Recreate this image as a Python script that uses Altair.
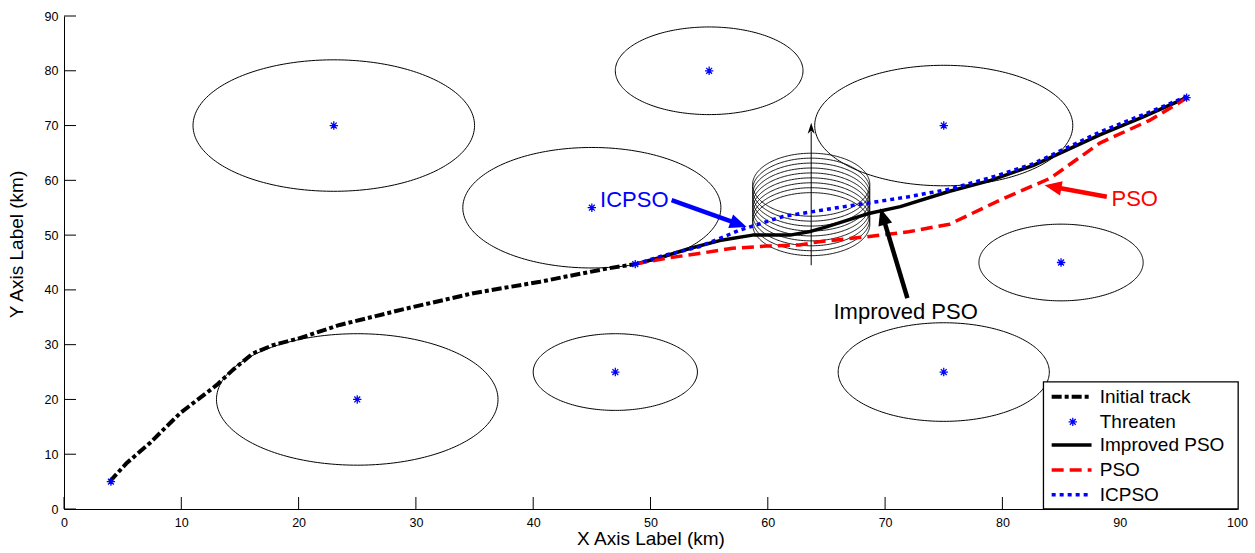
import altair as alt
import numpy as np
import pandas as pd

# ---------------- data ----------------
W, H = 1173, 493
XMAX, YMAX = 100, 90
SX, SY = W / XMAX, H / YMAX

threat_x = [23, 25, 47, 45, 55, 75, 75, 85]
threat_y = [70, 20, 25, 55, 80, 70, 25, 45]
threat_r = [12, 12, 7, 11, 8, 11, 9, 7]

waypoint_x = [4, 48.7, 95.7]
waypoint_y = [5, 44.7, 75.1]

init_x = [3.9, 5.3, 7.3, 9.9, 13.0, 14.4, 16.1, 17.8, 20.1, 23.5, 29.2, 34.9, 40.6, 46.3, 48.7]
init_y = [5.0, 8.3, 12.0, 17.5, 22.6, 25.4, 28.4, 29.9, 31.2, 33.6, 36.6, 39.4, 41.5, 43.9, 44.7]

ipso_x = [48.7, 51.0, 53.4, 55.9, 58.7, 61.9, 63.5, 65.0, 68.7, 71.3, 75.5, 79.0, 82.6, 88.3, 92.0, 95.7]
ipso_y = [44.7, 46.0, 47.6, 49.0, 50.0, 50.0, 50.6, 51.5, 54.0, 55.2, 58.0, 60.0, 62.7, 68.3, 71.6, 75.1]

pso_x = [48.7, 51.4, 54.0, 57.0, 59.9, 62.7, 64.4, 68.4, 72.0, 75.5, 79.8, 84.1, 88.3, 92.6, 95.4, 95.7]
pso_y = [44.7, 45.8, 46.6, 47.6, 48.0, 48.2, 48.8, 49.7, 50.6, 52.0, 56.4, 60.4, 66.8, 71.0, 74.6, 75.1]

icpso_x = [48.7, 51.0, 54.2, 57.6, 61.3, 63.0, 65.6, 69.3, 72.0, 75.5, 79.0, 82.6, 88.3, 92.6, 95.7]
icpso_y = [44.7, 46.2, 47.9, 50.9, 53.4, 54.0, 54.9, 56.1, 57.0, 58.4, 60.5, 63.0, 68.8, 72.5, 75.3]

cyl_cx = 63.7
cyl_rx = 5.0
cyl_ry = 5.75
cyl_levels = [52.0, 52.9, 53.8, 54.7, 55.6, 56.5, 57.4, 58.3, 59.2]
cyl_axis_y = [44.5, 70.5]

x_ticks = [0, 10, 20, 30, 40, 50, 60, 70, 80, 90, 100]
y_ticks = [0, 10, 20, 30, 40, 50, 60, 70, 80, 90]

# annotations: label, color, text x/y, arrow start x/y, arrow tip x/y
ann_label = ["ICPSO", "PSO", "Improved PSO"]
ann_color = ["#0000ff", "#ff0000", "#000000"]
ann_tx = [45.7, 89.3, 65.6]
ann_ty = [56.4, 56.6, 36.05]
ann_sx = [51.8, 88.9, 71.9]
ann_sy = [56.4, 57.0, 38.5]
ann_ex = [58.2, 83.6, 69.6]
ann_ey = [51.5, 59.1, 54.9]

legend_labels = ["Initial track", "Threaten", "Improved PSO", "PSO", "ICPSO"]
legend_rows_y = [20.5, 15.9, 11.7, 7.1, 2.6]
legend_box = dict(x=83.5, x2=100.1, y=0, y2=23.2)
legend_line_x = [84.2, 87.6]
legend_star_x = 86.0
legend_text_x = 88.3

FONT = "Liberation Sans"
BLACK, RED, BLUE = "#000000", "#ff0000", "#0000ff"
STAR = "M-1,0L1,0M0,-1L0,1M-0.7,-0.7L0.7,0.7M-0.7,0.7L0.7,-0.7"

# ---------------- scales / axes ----------------
xs = alt.Scale(domain=[0, XMAX], nice=False, zero=False)
ys = alt.Scale(domain=[0, YMAX], nice=False, zero=False)
xaxis = alt.Axis(title="X Axis Label (km)", values=x_ticks, tickSize=0, grid=False,
                 domainColor="black", domainWidth=1, labelColor="black", labelFont=FONT,
                 labelFontSize=12.5, labelPadding=7, labelFlush=False, labelOverlap=False,
                 titleFont=FONT, titleFontSize=19, titleFontWeight="normal", titleColor="black",
                 titleBaseline="top", titleY=20)
yaxis = alt.Axis(title="Y Axis Label (km)", values=y_ticks, tickSize=0, grid=False,
                 domainColor="black", domainWidth=1, labelColor="black", labelFont=FONT,
                 labelFontSize=12.5, labelPadding=6, labelFlush=False, labelOverlap=False,
                 titleFont=FONT, titleFontSize=19, titleFontWeight="normal", titleColor="black",
                 titleAngle=-90, titleBaseline="middle", titleX=-48, titleY=228)


def X(f="x"):
    return alt.X(f, type="quantitative", scale=xs, axis=xaxis)


def Y(f="y"):
    return alt.Y(f, type="quantitative", scale=ys, axis=yaxis)


layers = []

# threat circles
rows = []
th = np.linspace(0, 2 * np.pi, 241)
for k, (cx, cy, r) in enumerate(zip(threat_x, threat_y, threat_r)):
    for i, t in enumerate(th):
        rows.append({"id": k, "i": i, "x": cx + r * np.cos(t), "y": cy + r * np.sin(t)})
circles = pd.DataFrame(rows)
layers.append(alt.Chart(circles).mark_line(color=BLACK, strokeWidth=1).encode(
    x=X(), y=Y(), detail="id:N", order="i:Q"))

# cylinder rings
rows = []
for k, lv in enumerate(cyl_levels):
    for i, t in enumerate(th):
        rows.append({"id": k, "i": i, "x": cyl_cx + cyl_rx * np.cos(t), "y": lv + cyl_ry * np.sin(t)})
rings = pd.DataFrame(rows)
layers.append(alt.Chart(rings).mark_line(color=BLACK, strokeWidth=0.9).encode(
    x=X(), y=Y(), detail="id:N", order="i:Q"))


def arrow(sx, sy, ex, ey, color, width, head_len, head_path):
    dxp = (ex - sx) * SX
    dyp = -(ey - sy) * SY
    L = np.hypot(dxp, dyp)
    ux, uy = dxp / L, dyp / L
    bx = ex - ux * head_len * 0.8 / SX
    by = ey + uy * head_len * 0.8 / SY
    ang = float(np.degrees(np.arctan2(dxp, -dyp))) % 360
    seg = pd.DataFrame({"x": [sx], "y": [sy], "x2": [bx], "y2": [by]})
    tip = pd.DataFrame({"x": [ex], "y": [ey]})
    r = alt.Chart(seg).mark_rule(color=color, strokeWidth=width, strokeCap="butt").encode(
        x=X(), y=Y(), x2="x2:Q", y2="y2:Q")
    p = alt.Chart(tip).mark_point(shape=head_path, filled=True, fill=color, color=color,
                                  opacity=1, strokeWidth=0, size=(2 * head_len) ** 2,
                                  angle=ang).encode(x=X(), y=Y())
    return [r, p]


# cylinder vertical arrow
layers += arrow(cyl_cx, cyl_axis_y[0], cyl_cx, cyl_axis_y[1], BLACK, 1, 11,
                "M0,0L-0.32,1L0,0.72L0.32,1Z")


def track(xv, yv, color, width, dash=None):
    df = pd.DataFrame({"x": xv, "y": yv, "i": range(len(xv))})
    kw = dict(color=color, strokeWidth=width, strokeCap="butt", strokeJoin="round")
    if dash:
        kw["strokeDash"] = dash
    return alt.Chart(df).mark_line(**kw).encode(x=X(), y=Y(), order="i:Q")


DASH_INIT = [10, 3, 4, 3]
DASH_PSO = [12, 6]
DASH_IC = [4, 4]
layers.append(track(init_x, init_y, BLACK, 4, DASH_INIT))
layers.append(track(ipso_x, ipso_y, BLACK, 3.5))
layers.append(track(pso_x, pso_y, RED, 3.5, DASH_PSO))
layers.append(track(icpso_x, icpso_y, BLUE, 3.5, DASH_IC))

# threat / waypoint stars
stars = pd.DataFrame({"x": threat_x + waypoint_x, "y": threat_y + waypoint_y})
layers.append(alt.Chart(stars).mark_point(shape=STAR, filled=False, color=BLUE,
                                          strokeWidth=1.3, size=70, opacity=1).encode(x=X(), y=Y()))

# annotations
for lab, col, tx, ty, sx, sy, ex, ey in zip(ann_label, ann_color, ann_tx, ann_ty,
                                             ann_sx, ann_sy, ann_ex, ann_ey):
    layers += arrow(sx, sy, ex, ey, col, 4.5, 17, "M0,0L-0.42,1L0.42,1Z")
    tdf = pd.DataFrame({"x": [tx], "y": [ty], "t": [lab]})
    layers.append(alt.Chart(tdf).mark_text(font=FONT, fontSize=22, color=col, align="left",
                                           baseline="middle").encode(x=X(), y=Y(), text="t:N"))

# inward ticks
xt = pd.DataFrame({"x": x_ticks})
layers.append(alt.Chart(xt).mark_rule(color=BLACK, strokeWidth=1).encode(
    x=X(), y=alt.value(H), y2=alt.value(H - 12)))
yt = pd.DataFrame({"y": y_ticks})
layers.append(alt.Chart(yt).mark_rule(color=BLACK, strokeWidth=1).encode(
    y=Y(), x=alt.value(0), x2=alt.value(12)))

# legend
lb = pd.DataFrame([legend_box])
layers.append(alt.Chart(lb).mark_rect(fill="white", stroke=BLACK, strokeWidth=1.3).encode(
    x=X(), x2="x2:Q", y=Y(), y2="y2:Q"))
styles = [(BLACK, 4, DASH_INIT), None, (BLACK, 3.5, None), (RED, 3.5, DASH_PSO), (BLUE, 3.5, DASH_IC)]
for ly, st in zip(legend_rows_y, styles):
    if st is None:
        sdf = pd.DataFrame({"x": [legend_star_x], "y": [ly]})
        layers.append(alt.Chart(sdf).mark_point(shape=STAR, filled=False, color=BLUE,
                                                strokeWidth=1.3, size=70, opacity=1).encode(x=X(), y=Y()))
    else:
        col, wdt, dash = st
        layers.append(track(legend_line_x, [ly, ly], col, wdt, dash))
ltxt = pd.DataFrame({"x": [legend_text_x] * 5, "y": legend_rows_y, "t": legend_labels})
layers.append(alt.Chart(ltxt).mark_text(font=FONT, fontSize=19, color=BLACK, align="left",
                                        baseline="middle").encode(x=X(), y=Y(), text="t:N"))

chart = alt.layer(*layers).properties(
    width=W, height=H,
    autosize=alt.AutoSizeParams(type="none"),
    padding={"left": 64, "top": 16, "right": 18, "bottom": 44},
    background="white",
).configure_view(stroke=None)

chart.save("out.html", embed_options={"renderer": "svg", "actions": False})
